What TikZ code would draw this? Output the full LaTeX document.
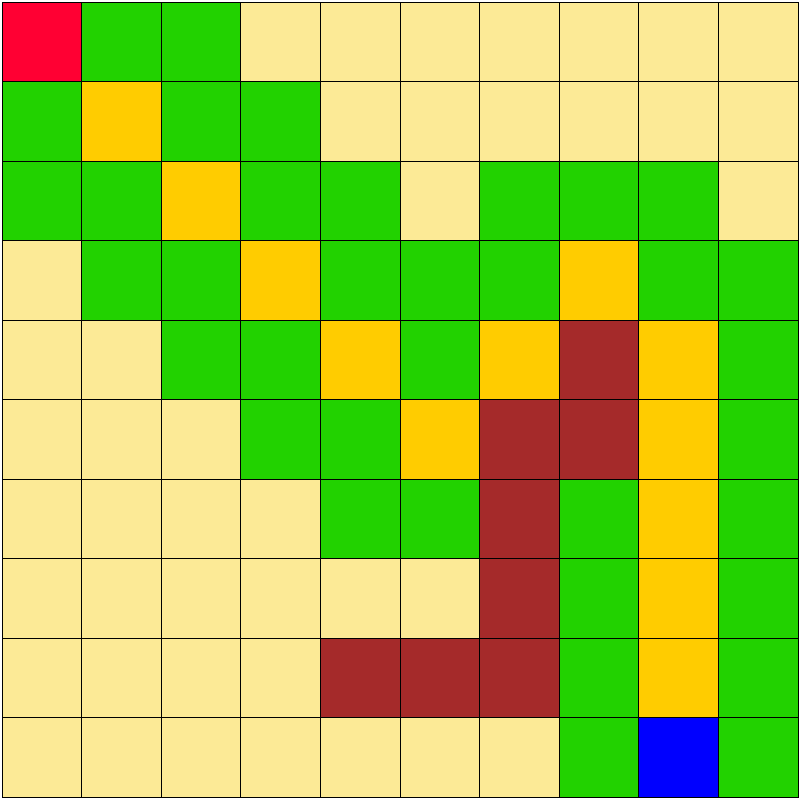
\documentclass[tikz,border=0pt]{standalone}
\definecolor{cR}{HTML}{FF0033}
\definecolor{cG}{HTML}{22D200}
\definecolor{cL}{HTML}{FCEA96}
\definecolor{cO}{HTML}{FFCC00}
\definecolor{cB}{HTML}{A52A2A}
\definecolor{cU}{HTML}{0000FF}
\tikzset{cell/.style={draw=black,line width=0.3pt}}
\begin{document}
\begin{tikzpicture}
\useasboundingbox (0,0) rectangle (10,-9.9875);
\begin{scope}[shift={(0.025,-0.025)},x=0.995cm,y=0.99375cm]
\foreach \row [count=\y from 0] in {
 {R,G,G,L,L,L,L,L,L,L},
 {G,O,G,G,L,L,L,L,L,L},
 {G,G,O,G,G,L,G,G,G,L},
 {L,G,G,O,G,G,G,O,G,G},
 {L,L,G,G,O,G,O,B,O,G},
 {L,L,L,G,G,O,B,B,O,G},
 {L,L,L,L,G,G,B,G,O,G},
 {L,L,L,L,L,L,B,G,O,G},
 {L,L,L,L,B,B,B,G,O,G},
 {L,L,L,L,L,L,L,G,U,G}}{
  \foreach \c [count=\x from 0] in \row {
    \path[cell,fill=c\c] (\x,-\y) rectangle ++(1,-1);
  }
}
\end{scope}
\end{tikzpicture}
\end{document}
